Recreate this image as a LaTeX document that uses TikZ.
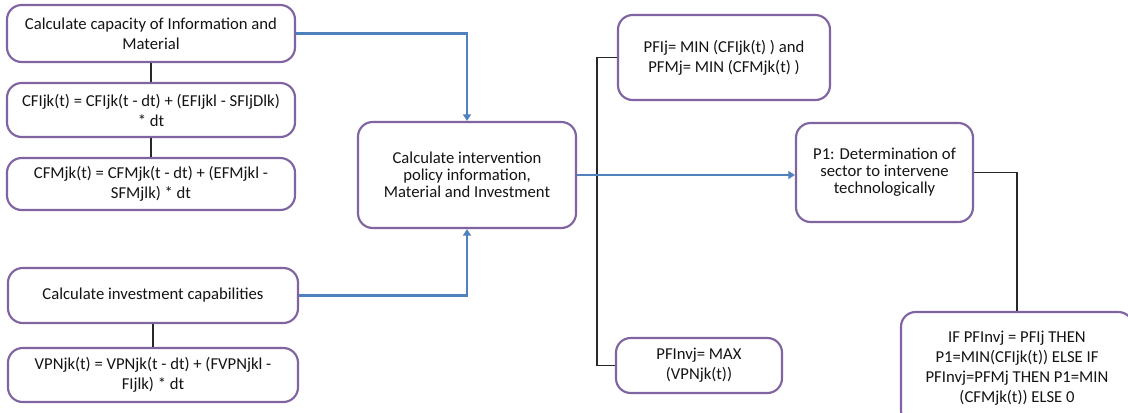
\documentclass[tikz,border=0pt]{standalone}
\usepackage{fontspec}
\setmainfont{Carlito}
\usetikzlibrary{arrows.meta}
\definecolor{boxline}{RGB}{128,100,162}
\definecolor{flowblue}{RGB}{79,129,189}
\definecolor{linkgray}{RGB}{40,40,40}
\definecolor{txt}{RGB}{20,20,20}
\begin{document}
\begin{tikzpicture}[x=0.75pt,y=-0.75pt,
  box/.style={draw=boxline,line width=1.6pt,rounded corners=11pt,fill=white,
    align=center,text=txt,font=\fontsize{12.5}{15}\selectfont,inner sep=2pt},
  tight/.style={font=\fontsize{12.5}{12.8}\selectfont},
  flow/.style={draw=flowblue,line width=1.6pt,-{Triangle[length=5pt,width=6pt]}},
  link/.style={draw=linkgray,line width=0.8pt}]
\useasboundingbox (0,0) rectangle (1128,412);
\clip (0,0) rectangle (1128,412);
\fill[white] (0,0) rectangle (1128,412);

% capacity branch
\node[box,minimum width=216pt,minimum height=42.75pt] (cap) at (151,33.5)
  {Calculate capacity of Information and\\Material};
\node[box,minimum width=216pt,minimum height=40.5pt] (cfi) at (151,110)
  {CFIjk(t) = CFIjk(t - dt) + (EFIjkl - SFIjDlk)\\* dt};
\node[box,minimum width=216pt,minimum height=39pt] (cfm) at (151,184)
  {CFMjk(t) = CFMjk(t - dt) + (EFMjkl -\\SFMjlk) * dt};

% investment branch
\node[box,minimum width=217.5pt,minimum height=41.25pt] (inv) at (153,295.5)
  {Calculate investment capabilities};
\node[box,minimum width=217.5pt,minimum height=40.5pt] (vpn) at (153,375)
  {VPNjk(t) = VPNjk(t - dt) + (FVPNjkl -\\FIjlk) * dt};

% policy computation
\node[box,tight,minimum width=163.5pt,minimum height=79.5pt] (pol) at (467,175)
  {Calculate intervention\\policy information,\\Material and Investment};

\node[box,minimum width=159pt,minimum height=63.75pt] (pfij) at (724,57.5)
  {PFIj= MIN (CFIjk(t) ) and\\PFMj= MIN (CFMjk(t) )};
\node[box,minimum width=124.5pt,minimum height=41.25pt] (pfinv) at (699,365.5)
  {PFInvj= MAX\\(VPNjk(t))};

\node[box,tight,minimum width=132.75pt,minimum height=74.25pt] (p1) at (884.5,172.5)
  {P1: Determination of\\sector to intervene\\technologically};
\node[box,minimum width=174pt,minimum height=84.75pt] (rule) at (1017,368.5)
  {IF PFInvj = PFIj THEN\\P1=MIN(CFIjk(t)) ELSE IF\\PFInvj=PFMj THEN P1=MIN\\(CFMjk(t)) ELSE 0};

% vertical links
\draw[link] (cap) -- (cfi);
\draw[link] (cfi) -- (cfm);
\draw[link] (inv) -- (vpn);

% tree from policy box
\coordinate (split) at (597,175);
\draw[link] (pol.east) -- (split);
\draw[link] (pfij.west) -| (split) |- (pfinv.west);
\draw[link] (p1.east) -| (rule.north);

% flow arrows
\draw[flow] (cap.east) -| (pol.north);
\draw[flow] (inv.east) -| (pol.south);
\draw[flow] (pol.east) -- (pol.east -| p1.west);
\end{tikzpicture}
\end{document}
